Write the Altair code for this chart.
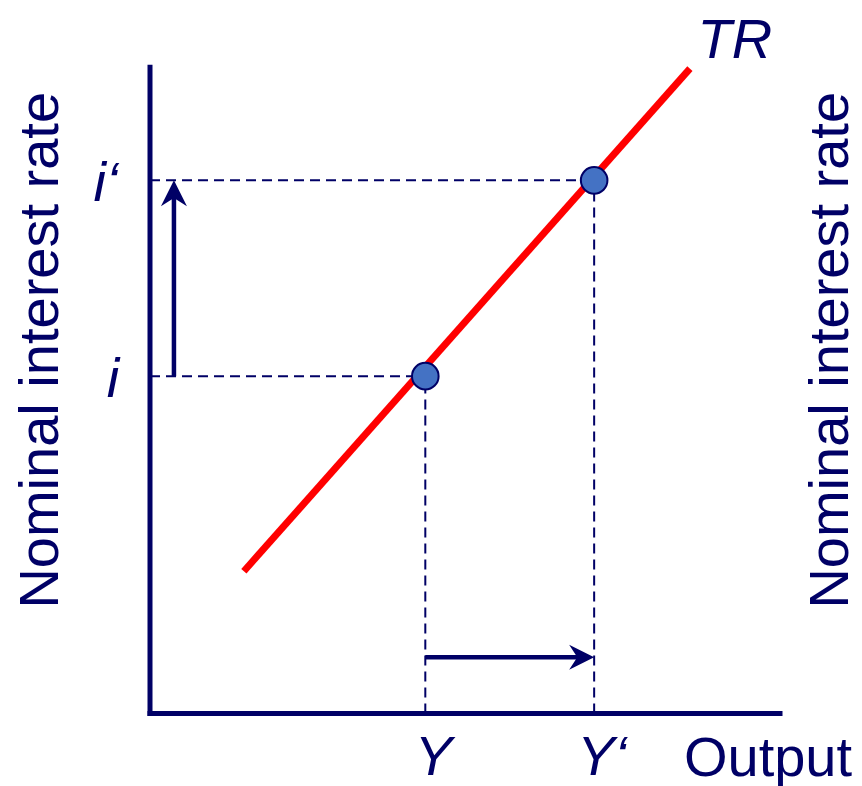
import altair as alt
import pandas as pd

NAVY = "#000066"
RED = "#ff0000"
BLUE = "#4472c4"
FONT = "Liberation Sans"

# ---- chart values (data units: axis corner = 0,0, axis ends = 100) ----
axis_end = 100
Y_vals = [43.7, 70.5]          # Y, Y'
i_vals = [52.2, 82.5]          # i, i'
tr_x = [14.9, 85.7]            # TR line endpoints
tr_y = [22.0, 99.8]
rate_arrow_x = 3.8             # x position of the vertical (interest-rate) arrow
output_arrow_y = 8.7           # y position of the horizontal (output) arrow
x_labels = ["Y", "Y\u2018"]
i_labels = ["i", "i\u2018"]

xs = alt.Scale(domain=[-20, 110], nice=False, zero=False)
ys = alt.Scale(domain=[-10, 105], nice=False, zero=False)


def seg_layer(df, **mark):
    return alt.Chart(df).mark_rule(**mark).encode(
        x=alt.X("x:Q", scale=xs, axis=None),
        y=alt.Y("y:Q", scale=ys, axis=None),
        x2="x2:Q",
        y2="y2:Q",
    )


axes_df = pd.DataFrame({
    "x": [0, 0], "y": [0, 0],
    "x2": [0, axis_end], "y2": [axis_end, 0],
})
axes = seg_layer(axes_df, color=NAVY, strokeWidth=5, strokeCap="square")

dash_df = pd.DataFrame({
    "x": [0, 0, Y_vals[0], Y_vals[1]],
    "y": [i_vals[0], i_vals[1], 0, 0],
    "x2": [Y_vals[0], Y_vals[1], Y_vals[0], Y_vals[1]],
    "y2": [i_vals[0], i_vals[1], i_vals[0], i_vals[1]],
})
dashes = seg_layer(dash_df, color=NAVY, strokeWidth=2, strokeDash=[10, 6])

tr_df = pd.DataFrame({"x": [tr_x[0]], "y": [tr_y[0]], "x2": [tr_x[1]], "y2": [tr_y[1]]})
tr_line = seg_layer(tr_df, color=RED, strokeWidth=7)

shaft_df = pd.DataFrame({
    "x": [rate_arrow_x, Y_vals[0]],
    "y": [i_vals[0], output_arrow_y],
    "x2": [rate_arrow_x, Y_vals[1] - 1.6],
    "y2": [i_vals[1] - 2.0, output_arrow_y],
})
shafts = seg_layer(shaft_df, color=NAVY, strokeWidth=4.5)

head_up = alt.Chart(pd.DataFrame({"x": [rate_arrow_x], "y": [i_vals[1]]})).mark_point(
    shape="M0,0 L-1,2 L0,1.35 L1,2 Z", size=676, filled=True, color=NAVY, opacity=1, strokeWidth=0
).encode(x=alt.X("x:Q", scale=xs, axis=None), y=alt.Y("y:Q", scale=ys, axis=None))

head_right = alt.Chart(pd.DataFrame({"x": [Y_vals[1]], "y": [output_arrow_y]})).mark_point(
    shape="M0,0 L-2,-1 L-1.35,0 L-2,1 Z", size=625, filled=True, color=NAVY, opacity=1, strokeWidth=0
).encode(x=alt.X("x:Q", scale=xs, axis=None), y=alt.Y("y:Q", scale=ys, axis=None))

pts = alt.Chart(pd.DataFrame({"x": Y_vals, "y": i_vals})).mark_circle(
    size=707, color=BLUE, opacity=1, stroke=NAVY, strokeWidth=2
).encode(x=alt.X("x:Q", scale=xs, axis=None), y=alt.Y("y:Q", scale=ys, axis=None))


def text_layer(df, **mark):
    base = dict(font=FONT, fontSize=56, color=NAVY)
    base.update(mark)
    return alt.Chart(df).mark_text(**base).encode(
        x=alt.X("x:Q", scale=xs, axis=None),
        y=alt.Y("y:Q", scale=ys, axis=None),
        text="t:N",
    )


ylab0 = text_layer(pd.DataFrame({"x": [0], "y": [i_vals[0]], "t": [i_labels[0]]}),
                   fontStyle="italic", align="center", baseline="alphabetic", dx=-37, dy=21)
ylab1 = text_layer(pd.DataFrame({"x": [0], "y": [i_vals[1]], "t": [i_labels[1]]}),
                   fontStyle="italic", align="center", baseline="alphabetic", dx=-44, dy=21)
xlab = text_layer(pd.DataFrame({"x": Y_vals, "y": [0, 0], "t": x_labels}),
                  fontStyle="italic", align="center", baseline="alphabetic", dx=8, dy=62)
out_lab = text_layer(pd.DataFrame({"x": [axis_end], "y": [0], "t": ["Output"]}),
                     align="center", baseline="alphabetic", dx=-12, dy=63)
tr_lab = text_layer(pd.DataFrame({"x": [tr_x[1]], "y": [tr_y[1]], "t": ["TR"]}),
                    fontStyle="italic", align="center", baseline="alphabetic", dx=45, dy=-11)
side_df = pd.DataFrame({"x": [-14.6, 110.8], "y": [56.2, 56.2],
                        "t": ["Nominal interest rate", "Nominal interest rate"]})
side = text_layer(side_df, angle=270, align="center", baseline="alphabetic")

chart = alt.layer(
    dashes, tr_line, axes, shafts, head_up, head_right, pts,
    ylab0, ylab1, xlab, out_lab, tr_lab, side,
).properties(
    width=819, height=743,
    autosize=alt.AutoSizeParams(type="none"),
    padding={"left": 16, "top": 27, "right": 11, "bottom": 8},
).configure_view(stroke=None)

chart.save("out.html", embed_options={"renderer": "svg", "actions": False})
